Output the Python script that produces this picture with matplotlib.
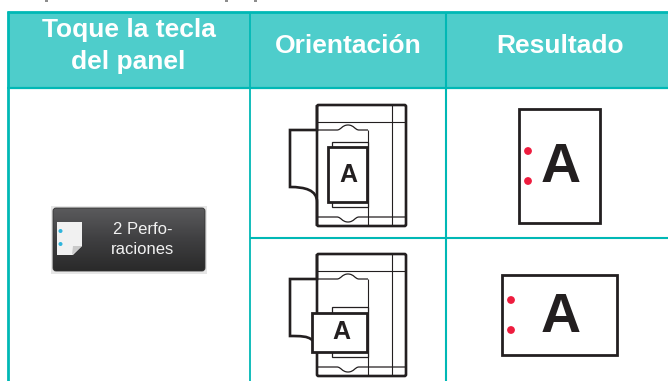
import numpy as np
import matplotlib
matplotlib.use("Agg")
import matplotlib.pyplot as plt
from matplotlib.patches import Rectangle, FancyBboxPatch, Polygon, Circle
from matplotlib.path import Path
from matplotlib.patches import PathPatch

plt.rcParams["font.family"] = ["Liberation Sans", "DejaVu Sans"]

encabezados = ["Toque la tecla", "del panel", "Orientación", "Resultado"]
texto_boton = ["2 Perfo-", "raciones"]
letra = "A"

TEAL = "#00B8B5"
TEAL_CLARO = "#4ECDCB"
NEGRO = "#231F20"
ROJO = "#EE1C3E"

fig = plt.figure(figsize=(6.68, 3.81), dpi=100, facecolor="white")
ax = fig.add_axes([0, 0, 1, 1])
ax.set_xlim(0, 668)
ax.set_ylim(381, 0)
ax.axis("off")


def linea(xs, ys, lw=1.0, color=NEGRO, z=3):
    ax.plot(xs, ys, color=color, lw=lw, zorder=z, solid_capstyle="butt", solid_joinstyle="round")


# tabla
ax.add_patch(Rectangle((8, 12), 660, 76, facecolor=TEAL_CLARO, edgecolor="none", zorder=1))
linea([6.5, 668], [12, 12], 2.0, TEAL)
linea([6.5, 668], [88, 88], 1.6, TEAL)
linea([8, 8], [11, 381], 2.0, TEAL)
linea([250, 250], [12, 381], 1.3, TEAL)
linea([446, 446], [12, 381], 1.5, TEAL)
linea([250, 668], [238, 238], 1.5, TEAL)

for txt, x, y in zip(encabezados, [128.5, 128.5, 348, 560], [37.5, 69, 53, 53]):
    ax.text(x, y, txt, color="white", fontsize=19, fontweight="bold", ha="center", va="baseline", zorder=4)

# restos de la linea de arriba, cortada por el borde
for x0, x1 in [(45, 48), (225, 228), (254, 257)]:
    linea([x0, x1], [0.7, 0.7], 1.2, "#777777")

# boton del panel
ax.add_patch(Rectangle((51, 206), 156, 68, facecolor="#E6E6E6", edgecolor="none", zorder=1))
caja = FancyBboxPatch((53, 208), 152, 63, boxstyle="round,pad=0,rounding_size=3",
                      facecolor="none", edgecolor="#333333", lw=0.6, zorder=3)
ax.add_patch(caja)
grad = np.linspace(0, 1, 64).reshape(-1, 1)
cmap = matplotlib.colors.LinearSegmentedColormap.from_list("b", ["#5A5A5C", "#3F3F41", "#2A2A2A"])
im = ax.imshow(grad, extent=(53, 205, 271, 208), cmap=cmap, aspect="auto", zorder=2)
im.set_clip_path(caja)
ax.set_xlim(0, 668)
ax.set_ylim(381, 0)

hoja = Polygon([(57, 222), (82, 222), (82, 246), (73, 255), (57, 255)], closed=True,
               facecolor="#F1F1F1", edgecolor="none", zorder=4)
ax.add_patch(hoja)
ax.add_patch(Polygon([(72, 255), (73, 246), (82, 246)], closed=True, facecolor="#C9C9C9", edgecolor="none", zorder=5))
for y in [231, 244]:
    ax.add_patch(Circle((60.5, y), 2.0, facecolor="#2FB5DC", edgecolor="none", zorder=5))
for txt, y in zip(texto_boton, [229, 249.5]):
    ax.text(143, y, txt, color="#F2F2F2", fontsize=12, ha="center", va="center", zorder=5)


def muesca(y, alto, xfin):
    v = [(317, y), (337, y), (341, y), (342, y + alto), (348, y + alto), (354, y + alto), (355, y), (359, y), (xfin, y)]
    c = [Path.MOVETO, Path.LINETO] + [Path.CURVE4] * 6 + [Path.LINETO]
    ax.add_patch(PathPatch(Path(v, c), fill=False, edgecolor=NEGRO, lw=0.9, zorder=3))


def bandeja(y0, y1, yl0, yl1, ya, yb, curva):
    # cuerpo de la maquina
    p = FancyBboxPatch((317, y0), 89, y1 - y0, boxstyle="round,pad=0,rounding_size=1.5",
                       facecolor="white", edgecolor=NEGRO, lw=1.9, zorder=2)
    ax.add_patch(p)
    linea([317, 406], [yl0, yl0], 0.8)
    linea([392, 392], [y0, y1], 0.8)
    linea([368, 368], [ya, y1], 0.8)
    # entrada de papel con la curva de abajo
    verts = [(317, y0), (317, ya), (290, ya), (290, yb)] + curva
    codes = [Path.MOVETO, Path.LINETO, Path.LINETO, Path.LINETO] + [Path.CURVE4] * 3 + [Path.LINETO]
    ax.add_patch(PathPatch(Path(verts, codes), fill=False, edgecolor=NEGRO, lw=1.9, zorder=4))
    # muescas arriba y abajo
    muesca(ya, -5, 368)
    muesca(yl1, 5, 406)


def papel(x0, x1, y0, y1, yg0, yg1, xa, ya):
    ax.add_patch(Rectangle((332, yg0), 36, yg1 - yg0, facecolor="white", edgecolor=NEGRO, lw=0.9, zorder=5))
    ax.add_patch(Rectangle((x0, y0), x1 - x0, y1 - y0, facecolor="white", edgecolor=NEGRO, lw=2.0, zorder=6))
    ax.text(xa, ya, letra, color=NEGRO, fontsize=18, fontweight="bold", ha="center", va="baseline", zorder=7)


bandeja(105, 226, 122, 217, 130, 187,
        [(305, 187), (317, 190), (317, 202), (317, 226)])
papel(328, 367, 147, 202, 142, 207, 348, 182.5)

bandeja(254, 376, 271, 367, 279, 336,
        [(300, 336), (308, 336), (312, 340), (317, 342)])
papel(312, 367, 313, 352, 307, 357, 341, 339)

# hojas de resultado
for (x0, x1, y0, y1, xd, yds, ya) in [(519, 600, 108.5, 223, 528, [151, 181], 182),
                                      (502, 617, 274.5, 355, 511, [300, 330], 332)]:
    ax.add_patch(Rectangle((x0, y0), x1 - x0, y1 - y0, facecolor="white", edgecolor=NEGRO, lw=2.0, zorder=3))
    for y in yds:
        ax.add_patch(Circle((xd, y), 3.9, facecolor=ROJO, edgecolor="none", zorder=4))
    ax.text(561, ya, letra, color=NEGRO, fontsize=40, fontweight="bold", ha="center", va="baseline", zorder=4)

fig.savefig("out.png", dpi=100)
